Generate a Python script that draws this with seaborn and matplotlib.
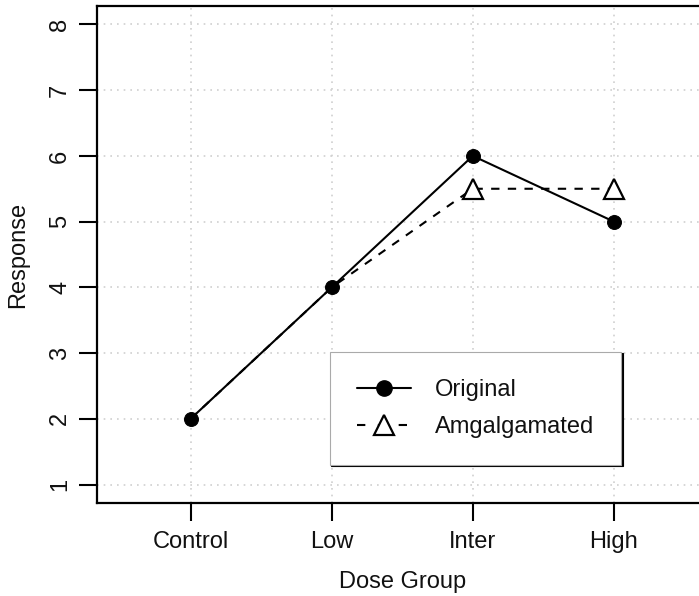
import matplotlib
matplotlib.use("Agg")
import matplotlib.pyplot as plt
from matplotlib.lines import Line2D
import seaborn as sns
import pandas as pd
import numpy as np

# Dose-response values
dose_groups = ["Control", "Low", "Inter", "High"]
original = [2, 4, 6, 5]
amalgamated = [2, 4, 5.5, 5.5]
y_ticks = [1, 2, 3, 4, 5, 6, 7, 8]

sns.set_style("white")
plt.rcParams["font.family"] = ["Liberation Sans", "DejaVu Sans"]

fig = plt.figure(figsize=(6.99, 5.96), dpi=100)
ax = fig.add_axes([97.5 / 699, 93 / 596, (707 - 97.5) / 699, (503 - 6) / 596])

pos = np.arange(1, len(dose_groups) + 1)
df_orig = pd.DataFrame({"x": pos, "y": original})
df_amal = pd.DataFrame({"x": pos, "y": amalgamated})

# grid
for yv in y_ticks:
    ax.axhline(yv, color="#d0d0d0", lw=1.2, ls=(0, (1, 3)), zorder=0)
for xv in pos:
    ax.axvline(xv, color="#d0d0d0", lw=1.2, ls=(0, (1, 3)), zorder=0)

# amalgamated series: dashed line, open triangles where it departs from the original
sns.lineplot(data=df_amal, x="x", y="y", ax=ax, color="black", lw=1.5,
             dashes=False, linestyle=(0, (4, 4)), marker="^", markersize=15,
             markerfacecolor="white", markeredgecolor="black", markeredgewidth=1.6,
             markevery=[2, 3], zorder=2, estimator=None, sort=False)
# original series: solid line with filled circles
sns.lineplot(data=df_orig, x="x", y="y", ax=ax, color="black", lw=1.5,
             marker="o", markersize=10, markerfacecolor="black",
             markeredgecolor="black", zorder=3, estimator=None, sort=False)

ax.set_xlim(0.34, 4.66)
ax.set_ylim(0.72, 8.28)
ax.set_xticks(pos)
ax.set_xticklabels(dose_groups)
ax.set_yticks(y_ticks)
ax.set_yticklabels([str(v) for v in y_ticks], rotation=90, va="center")

ax.tick_params(axis="both", which="major", direction="out", length=13,
               width=1.5, color="black", labelsize=17, labelcolor="#111111",
               bottom=True, left=True, top=False, right=False)
ax.tick_params(axis="x", pad=7.5)
ax.tick_params(axis="y", pad=6)

for side in ["left", "bottom", "top", "right"]:
    ax.spines[side].set_color("black")
    ax.spines[side].set_linewidth(1.6)

ax.set_xlabel("Dose Group", fontsize=17, labelpad=12.5, color="#111111")
ax.set_ylabel("Response", fontsize=17, labelpad=14.5, color="#111111")

handles = [
    Line2D([], [], color="black", lw=1.5, marker="o", markersize=11),
    Line2D([], [], color="black", lw=1.5, ls=(0, (4, 6)), marker="^", markersize=15,
           markerfacecolor="white", markeredgewidth=1.6),
]
leg = ax.legend(handles, ["Original", "Amgalgamated"], loc="upper left",
                bbox_to_anchor=(330 / 699, 1 - 352 / 596),
                bbox_transform=fig.transFigure, fontsize=17, frameon=True,
                fancybox=False, borderpad=1.15, labelspacing=0.62,
                handlelength=2.3, handletextpad=1.0, borderaxespad=0,
                shadow={"ox": 1.0, "oy": -1.0, "color": "black", "alpha": 1})
leg.get_frame().set_edgecolor("#aaaaaa")
leg.get_frame().set_linewidth(0.8)
leg.get_frame().set_alpha(1)
for t in leg.get_texts():
    t.set_color("#111111")

fig.savefig("out.png", dpi=100)
